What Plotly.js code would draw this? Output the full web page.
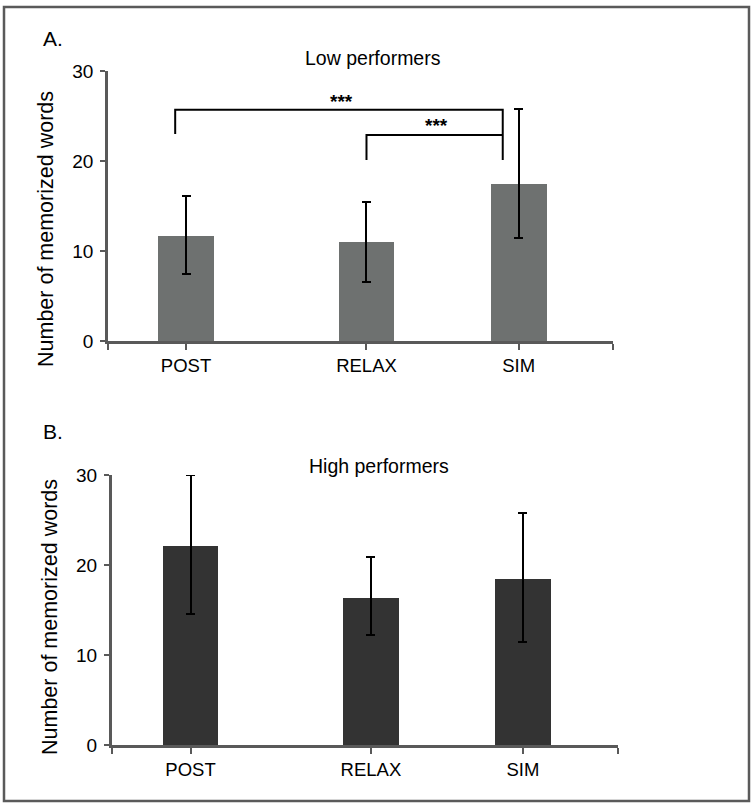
<!DOCTYPE html>
<html>
<head>
<meta charset="utf-8">
<script src="https://cdn.plot.ly/plotly-3.0.1.min.js"></script>
<style>
  html, body { margin: 0; padding: 0; background: #fff; }
  #chart { width: 754px; height: 808px; }
</style>
</head>
<body>
<div id="chart"></div>
<script>
// conditions and group results (number of memorized words)
const conditions = ['POST', 'RELAX', 'SIM'];

const lowMean = [11.7, 11.0, 17.4];
const lowErrPlus = [4.4, 4.4, 8.4];
const lowErrMinus = [4.2, 4.4, 5.9];

const highMean = [22.1, 16.3, 18.4];
const highErrPlus = [7.9, 4.6, 7.4];
const highErrMinus = [7.5, 4.1, 7.0];

// conditions are not evenly spaced on the original figure
const slots = [0, 1, 1.843];

const W = 754, H = 808;
const px = x => x / W;
const py = y => 1 - y / H;

const font = 'Liberation Sans, Arial, Helvetica, sans-serif';
const axisColor = '#595959';

function barTrace(mean, plus, minus, color, xa, ya) {
    return {
        type: 'bar',
        x: slots,
        y: mean,
        width: 0.31,
        marker: {color: color, line: {width: 0}},
        error_y: {
            type: 'data',
            symmetric: false,
            array: plus,
            arrayminus: minus,
            color: '#000',
            thickness: 2,
            width: 4.5
        },
        xaxis: xa,
        yaxis: ya,
        hoverinfo: 'y',
        showlegend: false
    };
}

const lowTrace = barTrace(lowMean, lowErrPlus, lowErrMinus, '#6e7170', 'x', 'y');
const highTrace = barTrace(highMean, highErrPlus, highErrMinus, '#333333', 'x2', 'y2');

function xAxis(domain, anchor, range) {
    return {
        domain: domain,
        anchor: anchor,
        range: range,
        tickvals: [range[0]].concat(slots, [range[1]]),
        ticktext: [''].concat(conditions, ['']),
        ticks: 'outside',
        ticklen: 6,
        tickwidth: 2,
        tickcolor: axisColor,
        showline: true,
        linecolor: axisColor,
        linewidth: 2.5,
        showgrid: false,
        zeroline: false,
        fixedrange: true,
        tickfont: {family: font, size: 18.5, color: '#000'}
    };
}

function yAxis(domain, anchor) {
    return {
        domain: domain,
        anchor: anchor,
        range: [0, 30],
        tickvals: [0, 10, 20, 30],
        ticks: 'outside',
        ticklen: 5,
        tickwidth: 2,
        tickcolor: axisColor,
        ticklabelstandoff: 3,
        showline: true,
        linecolor: axisColor,
        linewidth: 2.5,
        showgrid: false,
        zeroline: false,
        fixedrange: true,
        tickfont: {family: font, size: 19, color: '#000'}
    };
}

// significance brackets (low performers)
const bracketLine = {color: '#000', width: 2};
const shapes = [
    {type: 'path', xref: 'x', yref: 'y',
     path: 'M -0.06,23 L -0.06,25.7 L 1.755,25.7 L 1.755,20.1', line: bracketLine},
    {type: 'path', xref: 'x', yref: 'y',
     path: 'M 1.0,20.1 L 1.0,22.9 L 1.755,22.9', line: bracketLine},
    // figure frame
    {type: 'rect', xref: 'paper', yref: 'paper',
     x0: px(4), x1: px(749), y0: py(801), y1: py(7),
     line: {color: '#5a5a5a', width: 2.5}}
];

function label(text, x, y, size, xanchor) {
    return {
        text: text, xref: 'paper', yref: 'paper',
        x: px(x), y: py(y), xanchor: xanchor || 'center', yanchor: 'middle',
        showarrow: false, font: {family: font, size: size, color: '#000'}
    };
}

function yTitle(x, y) {
    return {
        text: 'Number of memorized words', xref: 'paper', yref: 'paper',
        x: px(x), y: py(y), xanchor: 'center', yanchor: 'middle', textangle: -90,
        showarrow: false, font: {family: font, size: 21.5, color: '#000'}
    };
}

function stars(x, y) {
    return {
        text: '***', xref: 'x', yref: 'y', x: x, y: y, showarrow: false,
        xanchor: 'center', yanchor: 'middle',
        font: {family: font, size: 19, color: '#000', weight: 'bold'}
    };
}

const annotations = [
    label('A.', 41, 38, 21, 'left'),
    label('B.', 41, 431, 21, 'left'),
    label('Low performers', 373, 58, 19.5),
    label('High performers', 379, 466, 19.5),
    yTitle(46, 229),
    yTitle(50, 617),
    stars(0.864, 26.6),
    stars(1.39, 23.9)
];

const layout = {
    width: W,
    height: H,
    margin: {l: 0, r: 0, t: 0, b: 0},
    paper_bgcolor: '#fff',
    plot_bgcolor: '#fff',
    bargap: 0,
    xaxis: xAxis([px(107.7), px(613)], 'y', [-0.434, 2.366]),
    yaxis: yAxis([py(341), py(71)], 'x'),
    xaxis2: xAxis([px(111.5), px(617.5)], 'y2', [-0.438, 2.367]),
    yaxis2: yAxis([py(745), py(475)], 'x2'),
    shapes: shapes,
    annotations: annotations,
    showlegend: false
};

Plotly.newPlot('chart', [lowTrace, highTrace], layout, {displayModeBar: false, staticPlot: true});
</script>
</body>
</html>
